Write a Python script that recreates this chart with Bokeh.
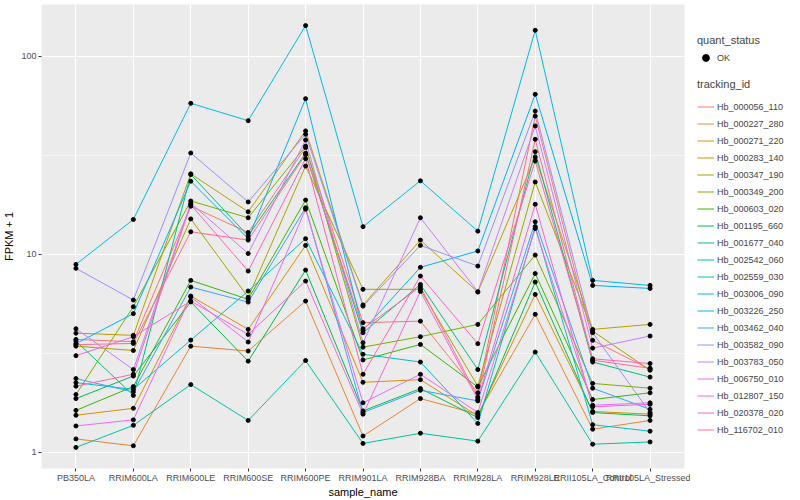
import math
from bokeh.plotting import figure
from bokeh.layouts import row
from bokeh.models import FactorRange, Range1d, FixedTicker, Legend, LegendItem, BasicTickFormatter
from bokeh.embed import file_html
from bokeh.resources import INLINE

samples = ["PB350LA", "RRIM600LA", "RRIM600LE", "RRIM600SE", "RRIM600PE", "RRIM901LA",
           "RRIM928BA", "RRIM928LA", "RRIM928LE", "RRII105LA_Control", "RRII105LA_Stressed"]

tracking_ids = ["Hb_000056_110", "Hb_000227_280", "Hb_000271_220", "Hb_000283_140", "Hb_000347_190",
                "Hb_000349_200", "Hb_000603_020", "Hb_001195_660", "Hb_001677_040", "Hb_002542_060",
                "Hb_002559_030", "Hb_003006_090", "Hb_003226_250", "Hb_003462_040", "Hb_003582_090",
                "Hb_003783_050", "Hb_006750_010", "Hb_012807_150", "Hb_020378_020", "Hb_116702_010"]

# FPKM + 1 per sample (same order as samples)
hb_000056_110 = [3.72, 3.62, 17.5, 12.9, 34.6, 4.52, 4.60, 2.00, 49.9, 3.68, 2.63]
hb_000227_280 = [1.17, 1.08, 3.44, 3.25, 5.81, 1.21, 1.87, 1.56, 4.98, 1.31, 1.45]
hb_000271_220 = [1.54, 1.67, 6.16, 4.18, 11.1, 2.26, 2.33, 1.53, 6.28, 1.61, 1.56]
hb_000283_140 = [4.00, 3.90, 25.5, 16.4, 42.0, 5.55, 11.8, 6.45, 31.0, 4.18, 4.43]
hb_000347_190 = [3.44, 3.27, 15.1, 6.07, 27.9, 6.66, 6.66, 2.16, 23.2, 4.10, 2.60]
hb_000349_200 = [1.96, 5.44, 18.6, 15.3, 35.2, 3.40, 3.84, 4.43, 9.92, 2.23, 2.11]
hb_000603_020 = [1.63, 2.15, 7.39, 5.93, 18.8, 2.93, 3.51, 2.14, 8.00, 1.85, 2.00]
hb_001195_660 = [1.87, 2.43, 5.75, 2.89, 8.33, 1.62, 2.10, 1.50, 7.25, 1.59, 1.53]
hb_001677_040 = [3.65, 1.94, 25.3, 12.4, 32.4, 4.02, 7.05, 2.62, 33.0, 2.86, 2.40]
hb_002542_060 = [1.06, 1.37, 2.20, 1.45, 2.91, 1.11, 1.25, 1.14, 3.21, 1.10, 1.13]
hb_002559_030 = [2.25, 2.08, 3.69, 6.53, 12.0, 3.13, 2.86, 1.40, 13.8, 1.38, 1.28]
hb_003006_090 = [8.90, 15.0, 57.9, 47.3, 142.9, 13.8, 23.5, 13.1, 135.3, 7.39, 6.97]
hb_003226_250 = [3.54, 5.02, 23.4, 12.0, 61.1, 4.13, 8.60, 10.4, 64.3, 6.97, 6.73]
hb_003462_040 = [2.36, 2.02, 6.84, 5.74, 17.2, 1.59, 2.06, 1.82, 14.6, 2.11, 1.65]
hb_003582_090 = [8.50, 5.88, 32.5, 18.4, 40.4, 5.48, 11.1, 8.73, 52.9, 4.02, 1.59]
hb_003783_050 = [4.21, 2.62, 18.1, 10.1, 37.8, 3.58, 15.3, 6.48, 44.5, 3.36, 3.87]
hb_006750_010 = [1.36, 1.46, 6.10, 3.61, 16.9, 1.78, 2.48, 1.59, 13.5, 1.73, 1.78]
hb_012807_150 = [3.08, 3.84, 5.81, 3.94, 7.33, 1.56, 6.50, 1.85, 17.9, 1.70, 1.75]
hb_020378_020 = [2.16, 2.48, 17.8, 8.24, 30.4, 2.48, 7.77, 3.54, 29.6, 2.97, 2.81]
hb_116702_010 = [3.50, 3.55, 13.0, 11.8, 31.9, 4.21, 6.87, 1.90, 38.1, 2.92, 2.66]

series_values = [hb_000056_110, hb_000227_280, hb_000271_220, hb_000283_140, hb_000347_190,
                 hb_000349_200, hb_000603_020, hb_001195_660, hb_001677_040, hb_002542_060,
                 hb_002559_030, hb_003006_090, hb_003226_250, hb_003462_040, hb_003582_090,
                 hb_003783_050, hb_006750_010, hb_012807_150, hb_020378_020, hb_116702_010]

colors = ["#F8766D", "#EA8331", "#D89000", "#C09B00", "#A3A500", "#7CAE00", "#39B600", "#00BB4E",
          "#00BF7D", "#00C1A3", "#00BFC4", "#00BAE0", "#00B0F6", "#35A2FF", "#9590FF", "#C77CFF",
          "#E76BF3", "#FA62DB", "#FF62BC", "#FF6C91"]

quant_status = ["OK"]
y_ticks = [1, 10, 100]
y_minor_ticks = [10 ** 0.5, 10 ** 1.5]

FONT = "Liberation Sans"
NAN = float("nan")

all_vals = [v for s in series_values for v in s]
lo, hi = math.log10(min(all_vals)), math.log10(max(all_vals))
pad = 0.05 * (hi - lo)

p = figure(width=690, height=500,
           x_range=FactorRange(factors=samples, range_padding=0.1, range_padding_units="absolute"),
           y_range=Range1d(10 ** (lo - pad), 10 ** (hi + pad)),
           y_axis_type="log", output_backend="svg", toolbar_location=None,
           min_border_left=0, min_border_right=6, min_border_top=4, min_border_bottom=0,
           background_fill_color="#EBEBEB", border_fill_color="white", outline_line_color=None)

for vals, col in zip(series_values, colors):
    p.line(x=samples, y=vals, line_color=col, line_width=1.0)

xs = [s for vals in series_values for s in samples]
ys = [v for vals in series_values for v in vals]
p.scatter(x=xs, y=ys, size=4, color="black")

# grid
p.xgrid.grid_line_color = "white"
p.xgrid.grid_line_width = 1.1
p.ygrid.grid_line_color = "white"
p.ygrid.grid_line_width = 1.1
p.ygrid.minor_grid_line_color = "white"
p.ygrid.minor_grid_line_width = 0.55

ticker = FixedTicker(ticks=y_ticks, minor_ticks=y_minor_ticks)
p.yaxis.ticker = ticker
p.ygrid.ticker = ticker
p.yaxis.formatter = BasicTickFormatter()
p.yaxis.major_label_overrides = {1: "1", 10: "10", 100: "100"}

for ax in (p.xaxis[0], p.yaxis[0]):
    ax.axis_line_color = None
    ax.major_tick_line_color = "#333333"
    ax.major_tick_out = 3
    ax.major_tick_in = 0
    ax.minor_tick_line_color = None
    ax.major_label_text_color = "#4D4D4D"
    ax.major_label_text_font_size = "9px"
    ax.major_label_text_font = FONT
    ax.major_label_standoff = 1
    ax.axis_label_text_font = FONT
    ax.axis_label_text_font_size = "11px"
    ax.axis_label_text_font_style = "normal"
    ax.axis_label_text_color = "black"
    ax.axis_label_standoff = 0
p.yaxis.axis_label_standoff = 3

p.xaxis.axis_label = "sample_name"
p.yaxis.axis_label = "FPKM + 1"

# legend panel (keys from off-data renderers carrying the same styles)
lp = figure(width=110, height=500, output_backend="svg", toolbar_location=None,
            x_axis_location=None, y_axis_location=None, min_border=0,
            x_range=Range1d(0, 1), y_range=Range1d(0, 1),
            outline_line_color=None, background_fill_color="white", border_fill_color="white")
lp.grid.visible = False

track_items = []
for tid, col in zip(tracking_ids, colors):
    r = lp.line(x=[NAN, NAN], y=[NAN, NAN], line_color=col, line_width=1.0)
    track_items.append(LegendItem(label=tid, renderers=[r]))
pt_key = lp.scatter(x=[NAN], y=[NAN], size=3, color="black")


def style_legend(lg, standoff):
    lg.title_text_font = FONT
    lg.title_text_font_size = "11px"
    lg.title_text_font_style = "normal"
    lg.label_text_font = FONT
    lg.label_text_font_size = "9px"
    lg.background_fill_alpha = 0
    lg.border_line_color = None
    lg.padding = 0
    lg.margin = 0
    lg.glyph_width = 17
    lg.glyph_height = 17
    lg.label_height = 17
    lg.label_standoff = 3
    lg.spacing = 0
    lg.title_standoff = standoff


leg_q = Legend(items=[LegendItem(label=quant_status[0], renderers=[pt_key])], title="quant_status",
               location=(7, 402))
leg_t = Legend(items=track_items, title="tracking_id", location=(7, 30))
style_legend(leg_q, 3)
style_legend(leg_t, 8)
lp.add_layout(leg_q, "center")
lp.add_layout(leg_t, "center")

open("out.html", "w").write(file_html(row(p, lp), INLINE))
